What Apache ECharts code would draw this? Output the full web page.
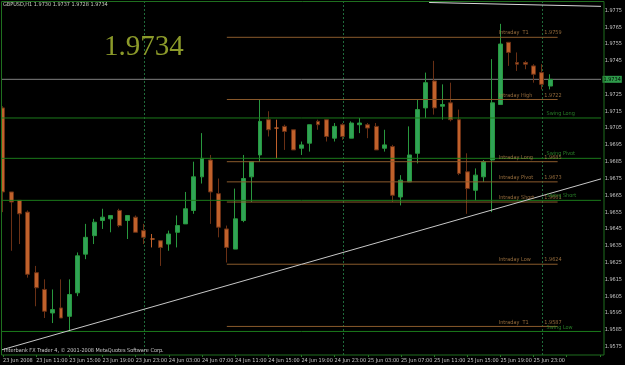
<!DOCTYPE html>
<html><head><meta charset="utf-8">
<script src="https://cdn.jsdelivr.net/npm/echarts@6/dist/echarts.min.js"></script>
<style>html,body{margin:0;padding:0;background:#000;}#c{width:625px;height:365px;}</style>
</head><body><div id="c"></div>
<script>
// ---------- data ----------
const symbolName = 'GBPUSD,H1';
const copyrightText = 'Interbank FX Trader 4, \u00a9 2001-2008 MetaQuotes Software Corp.';
const startDay = 23, startHour = 7, monthName = 'Jun';
const emptySlots = 6; // chart shift area to the right of the last bar
const tickLabels = ['23 Jun 2008','23 Jun 11:00','23 Jun 15:00','23 Jun 19:00','23 Jun 23:00',
  '24 Jun 03:00','24 Jun 07:00','24 Jun 11:00','24 Jun 15:00','24 Jun 19:00','24 Jun 23:00',
  '25 Jun 03:00','25 Jun 07:00','25 Jun 11:00','25 Jun 15:00','25 Jun 19:00','25 Jun 23:00'];
const opens  = [1.9717,1.9667,1.9662,1.9655,1.9619,1.9609,1.9595,1.9598,1.9593,1.9607,
                1.9630,1.9641,1.9650,1.9651,1.9656,1.9650,1.9652,1.9644,1.9639,1.9638,
                1.9636,1.9643,1.9648,1.9656,1.9676,1.9686,1.9666,1.9645,1.9633,1.9650,
                1.9676,1.9689,1.9710,1.9705,1.9706,1.9704,1.9693,1.9696,1.9709,1.9710,
                1.9699,1.9707,1.9699,1.9707,1.9707,1.9706,1.9693,1.9694,1.9664,1.9673,
                1.9690,1.9717,1.9733,1.9718,1.9720,1.9710,1.9679,1.9668,1.9676,1.9686,
                1.9719,1.9756,1.9744,1.9744,1.9742,1.9738,1.9730];
const closes = [1.9667,1.9661,1.9654,1.9618,1.9610,1.9596,1.9597,1.9592,1.9606,1.9629,
                1.9640,1.9649,1.9652,1.9653,1.9647,1.9653,1.9643,1.9640,1.9639,1.9634,
                1.9642,1.9647,1.9657,1.9676,1.9687,1.9667,1.9646,1.9634,1.9651,1.9675,
                1.9685,1.9709,1.9704,1.9705,1.9703,1.9692,1.9695,1.9707,1.9707,1.9700,
                1.9706,1.9700,1.9708,1.9708,1.9705,1.9692,1.9695,1.9665,1.9674,1.9689,
                1.9716,1.9732,1.9717,1.9719,1.9710,1.9678,1.9669,1.9677,1.9685,1.9720,
                1.9755,1.9750,1.9743,1.9743,1.9737,1.9731,1.9734];
const lows   = [1.9655,1.9632,1.9636,1.9616,1.9599,1.9592,1.9589,1.9592,1.9584,1.9605,
                1.9627,1.9636,1.9645,1.9643,1.9646,1.9639,1.9643,1.9636,1.9634,1.9623,
                1.9632,1.9634,1.9648,1.9654,1.9672,1.9648,1.9640,1.9625,1.9633,1.9649,
                1.9661,1.9685,1.9700,1.9687,1.9692,1.9692,1.9689,1.9691,1.9704,1.9697,
                1.9697,1.9698,1.9699,1.9702,1.9699,1.9692,1.9691,1.9661,1.9659,1.9673,
                1.9684,1.9711,1.9713,1.9710,1.9709,1.9677,1.9654,1.9662,1.9673,1.9655,
                1.9719,1.9742,1.9739,1.9740,1.9732,1.9728,1.9728];
const highs  = [1.9718,1.9667,1.9662,1.9656,1.9623,1.9615,1.9609,1.9615,1.9615,1.9631,
                1.9648,1.9651,1.9657,1.9653,1.9657,1.9653,1.9653,1.9648,1.9642,1.9638,
                1.9644,1.9653,1.9667,1.9685,1.9702,1.9689,1.9675,1.9647,1.9669,1.9689,
                1.9685,1.9722,1.9715,1.9710,1.9707,1.9704,1.9697,1.9707,1.9710,1.9710,
                1.9708,1.9708,1.9709,1.9711,1.9708,1.9708,1.9704,1.9695,1.9677,1.9706,
                1.9722,1.9738,1.9745,1.9731,1.9732,1.9716,1.9690,1.9681,1.9686,1.9746,
                1.9767,1.9756,1.9750,1.9745,1.9743,1.9743,1.9737];
const swingNames  = ['Swing Long','Swing Pivot','Swing Short','Swing Low'];
const swingValues = [1.9711,1.9687,1.9662,1.9584];
const intradayNames  = ['Intraday  T1','Intraday High','Intraday Long','Intraday Pivot','Intraday Short','Intraday Low','Intraday  T1'];
const intradayValues = [1.9759,1.9722,1.9685,1.9673,1.9661,1.9624,1.9587];
const intradaySpan = [27, 66.9];            // bar positions where the intraday lines start/end
const trendLinePts = [[-0.2,1.9573],[72.3,1.9675]];
const upperLinePts = [[51.4,1.97797],[72.3,1.97774]];

// ---------- build ----------
const nBars = opens.length;
const nSlots = nBars + emptySlots;
const categories = [];
for (let i = 0; i < nSlots; i++) {
  const h = startHour + i;
  categories.push(`${startDay + Math.floor(h / 24)} ${monthName} ${String(h % 24).padStart(2,'0')}:00`);
}
const separators = categories.map((c, i) => c.endsWith(' 00:00') ? i : -1).filter(i => i >= 0);
const candleData = opens.map((o, i) => [o, closes[i], lows[i], highs[i]]);
const last = nBars - 1;
const lastClose = closes[last];
const f4 = v => v.toFixed(4);

const SMALL = 5.5;
const FONT = "'DejaVu Sans Condensed','Liberation Sans Narrow','Liberation Sans',sans-serif";
const GREEN_LINE = '#1b7a1b', GREEN_TXT = '#2f9a2f';
const ORANGE_LINE = '#8a5a2c', ORANGE_TXT = '#b8844a';
const xMaxPos = nSlots - 1;
const fullSpan = [-0.2, xMaxPos + 0.28];
const intraNameX = 59.8, intraValX = 65.3, swingNameX = 65.56, swingValX = 72.16;

const series = [];
series.push({
  type: 'candlestick', xAxisIndex: 0, yAxisIndex: 0, data: candleData, barWidth: 4.4, z: 2,
  itemStyle: { color: '#30a356', color0: '#c0612b', borderColor: '#28983e', borderColor0: '#6a3015',
               borderColorDoji: '#c0612b', borderWidth: 1 },
  markLine: {
    symbol: 'none', silent: true, animation: false, z: 1,
    data: separators.map(i => ({ xAxis: i, lineStyle: { color: '#1f6a3a', width: 1, type: [2, 2] }, label: { show: false } }))
  }
});
// current price (bid) line with its highlighted axis label
series.push({ type: 'line', xAxisIndex: 1, yAxisIndex: 0, symbol: 'none', clip: false, silent: true, z: 1,
  lineStyle: { color: '#808080', width: 1 }, data: [[fullSpan[0], lastClose], [fullSpan[1], lastClose]],
  endLabel: { show: true, formatter: f4(lastClose), distance: 1.5, backgroundColor: '#2e9a4a', color: '#000',
              fontSize: SMALL, fontFamily: FONT, padding: [1, 1, 0, 1] } });
swingValues.forEach(v => series.push({ type: 'line', xAxisIndex: 1, yAxisIndex: 0, symbol: 'none', clip: false, silent: true, z: 3,
  lineStyle: { color: GREEN_LINE, width: 1 }, data: [[fullSpan[0], v], [fullSpan[1], v]] }));
intradayValues.forEach(v => series.push({ type: 'line', xAxisIndex: 1, yAxisIndex: 0, symbol: 'none', clip: false, silent: true, z: 3,
  lineStyle: { color: ORANGE_LINE, width: 1 }, data: [[intradaySpan[0], v], [intradaySpan[1], v]] }));
series.push({ type: 'line', xAxisIndex: 1, yAxisIndex: 0, symbol: 'none', clip: false, silent: true, z: 4,
  lineStyle: { color: '#c8c8c8', width: 1 }, data: trendLinePts });
series.push({ type: 'line', xAxisIndex: 1, yAxisIndex: 0, symbol: 'none', clip: false, silent: true, z: 4,
  lineStyle: { color: '#d8d8d8', width: 1 }, data: upperLinePts });

function labelSeries(items, color) {
  return { type: 'scatter', xAxisIndex: 1, yAxisIndex: 0, symbolSize: 1, silent: true, z: 5,
    itemStyle: { color: 'rgba(0,0,0,0)' },
    label: { show: true, position: [0.5, -0.8], verticalAlign: 'bottom', align: 'left', formatter: '{b}',
             color: color, fontSize: SMALL, fontFamily: FONT },
    data: items };
}
const intraItems = [];
intradayNames.forEach((n, i) => {
  intraItems.push({ name: n, value: [intraNameX, intradayValues[i]] });
  intraItems.push({ name: f4(intradayValues[i]), value: [intraValX, intradayValues[i]] });
});
const swingItems = [];
swingNames.forEach((n, i) => {
  swingItems.push({ name: n, value: [swingNameX, swingValues[i]] });
  swingItems.push({ name: f4(swingValues[i]), value: [swingValX, swingValues[i]], label: { align: 'right' } });
});
series.push(labelSeries(intraItems, ORANGE_TXT));
series.push(labelSeries(swingItems, GREEN_TXT));

const chart = echarts.init(document.getElementById('c'), null, { renderer: 'canvas' });
chart.setOption({
  backgroundColor: '#000',
  animation: false,
  title: [
    { text: `${symbolName} ${f4(opens[last])} ${f4(highs[last])} ${f4(lows[last])} ${f4(lastClose)}`,
      left: 3, top: 2, padding: 0, textStyle: { color: '#c8d0c0', fontSize: SMALL, fontWeight: 'normal', fontFamily: FONT } },
    { text: f4(lastClose), left: 104, top: 33, padding: 0,
      textStyle: { color: '#8c9a2a', fontSize: 29, fontWeight: 'normal', fontFamily: "'Liberation Serif','DejaVu Serif',serif" } },
    { text: copyrightText, left: 4, top: 348, padding: 0,
      textStyle: { color: '#c8c8c8', fontSize: SMALL, fontWeight: 'normal', fontFamily: FONT } }
  ],
  grid: { left: 1.7, top: 2, width: 600, height: 353, containLabel: false },
  xAxis: [
    { type: 'category', data: categories, boundaryGap: false, gridIndex: 0,
      axisLine: { show: false },
      axisTick: { show: true, interval: 3, length: 2, lineStyle: { color: '#2a7a2a' } },
      axisLabel: { interval: 3, margin: 3, align: 'left', color: '#c8c8c8', fontSize: SMALL, fontFamily: FONT,
        formatter: (v, i) => (i % 4 === 0 && i < nBars && tickLabels[i / 4]) ? tickLabels[i / 4] : '' },
      splitLine: { show: false } },
    { type: 'value', min: 0, max: xMaxPos, gridIndex: 0, show: false, splitLine: { show: false } }
  ],
  yAxis: [{ type: 'value', position: 'right', offset: 2.3, min: 1.957, max: 1.978, interval: 0.0005,
    splitLine: { show: false }, axisLine: { show: false }, axisTick: { show: false },
    axisLabel: { margin: 2.5, color: '#c8c8c8', fontSize: SMALL, fontFamily: FONT,
      formatter: v => {
        const t = Math.round(v * 10000);
        if (t % 10 !== 5) return '';
        if (Math.abs(v - lastClose) < 0.0003) return '';
        return v.toFixed(4);
      } } }],
  graphic: [{ type: 'rect', silent: true, z: 100,
    shape: { x: 1.5, y: 1.5, width: 602.5, height: 353.5 },
    style: { fill: 'none', stroke: '#1f6f1f', lineWidth: 1 } }],
  series: series
});
</script></body></html>
